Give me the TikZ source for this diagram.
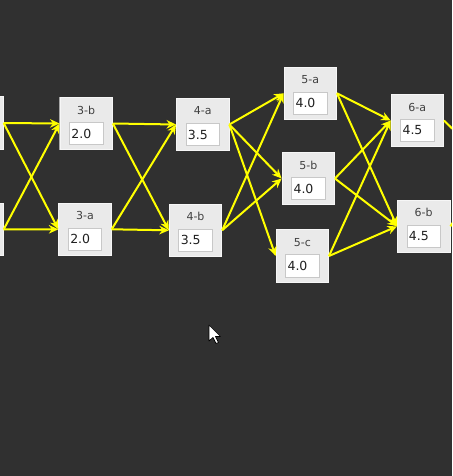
\documentclass[tikz,border=0pt]{standalone}
\usepackage{fontspec}
\setmainfont{DejaVu Sans}
\usetikzlibrary{arrows.meta}
\definecolor{bg}{HTML}{303030}
\definecolor{boxfill}{HTML}{EAEAEA}
\definecolor{boxline}{HTML}{F6F6F6}
\definecolor{fieldline}{HTML}{C8C8C8}
\definecolor{lbl}{HTML}{404040}
\definecolor{num}{HTML}{202020}
\definecolor{edge}{HTML}{FFFF00}
\tikzset{
 cellbox/.style={draw=boxline, fill=boxfill, line width=0.8pt, minimum width=52.5pt, minimum height=52.5pt, inner sep=0pt},
 cellname/.style={font=\fontsize{11}{13}\selectfont, text=lbl, inner sep=0pt},
 cellfield/.style={draw=fieldline, fill=white, line width=0.8pt, minimum width=33.5pt, minimum height=22.5pt, inner sep=2pt, text width=29.5pt, align=left, text=num, font=\fontsize{12.5}{14}\selectfont},
 link/.style={draw=edge, line width=2pt, -{Stealth[length=9.5pt,width=8.5pt,inset=3pt]}},
 pointer/.style={fill=white, draw=black, line width=0.7pt, line join=round},
}
\newcommand\mycell[5]{%
 \node[cellbox] (#1) at (#2,#3) {};
 \node[cellname] (#1n) at ([yshift=13.5pt]#1.center) {#4};
 \node[cellfield] (#1v) at ([yshift=-10pt]#1.center) {#5};
}
\begin{document}
\begin{tikzpicture}[x=1pt,y=-1pt]
\useasboundingbox (0,0) rectangle (452,476);
\fill[bg] (0,0) rectangle (452,476);
\clip (0,0) rectangle (452,476);
% partially visible column on the left
\node[cellbox] (l1) at (-23,123) {};
\node[cellbox] (l2) at (-23,229.5) {};
\mycell{n3b}{86.2}{123.5}{3-b}{2.0}
\mycell{n3a}{85}{229.3}{3-a}{2.0}
\mycell{n4a}{202.7}{124.5}{4-a}{3.5}
\mycell{n4b}{195.5}{230.3}{4-b}{3.5}
\mycell{n5a}{310.3}{93.3}{5-a}{4.0}
\mycell{n5b}{308.3}{178.5}{5-b}{4.0}
\mycell{n5c}{302.3}{256}{5-c}{4.0}
\mycell{n6a}{417.3}{120.5}{6-a}{4.5}
\mycell{n6b}{423.7}{226.3}{6-b}{4.5}
\draw[gray!70, line width=0.8pt] (n3b.north west) -- (n3b.south west);
\coordinate (o7a) at (505,145);
\coordinate (o7b) at (505,180);
% connectors
\draw[link] (l1.east) -- (n3b.west);
\draw[link] (l1.east) -- (n3a.west);
\draw[link] (l2.east) -- (n3b.west);
\draw[link] (l2.east) -- (n3a.west);
\draw[link] (n3b.east) -- (n4a.west);
\draw[link] (n3b.east) -- (n4b.west);
\draw[link] (n3a.east) -- (n4a.west);
\draw[link] (n3a.east) -- (n4b.west);
\draw[link] (n4a.east) -- (n5a.west);
\draw[link] (n4a.east) -- (n5b.west);
\draw[link] (n4a.east) -- (n5c.west);
\draw[link] (n4b.east) -- (n5a.west);
\draw[link] (n4b.east) -- (n5b.west);
\draw[link] (n5a.east) -- (n6a.west);
\draw[link] (n5a.east) -- (n6b.west);
\draw[link] (n5b.east) -- (n6a.west);
\draw[link] (n5b.east) -- (n6b.west);
\draw[link] (n5c.east) -- (n6a.west);
\draw[link] (n5c.east) -- (n6b.west);
\draw[link] (n6a.east) -- (o7b);
\draw[link] (n6b.east) -- (o7a);
% mouse pointer
\draw[pointer] (209,325) -- ++(0,16) -- ++(4,-3.5) -- ++(3,6) -- ++(2.5,-1) -- ++(-3,-6) -- ++(5,0) -- cycle;
\end{tikzpicture}
\end{document}
